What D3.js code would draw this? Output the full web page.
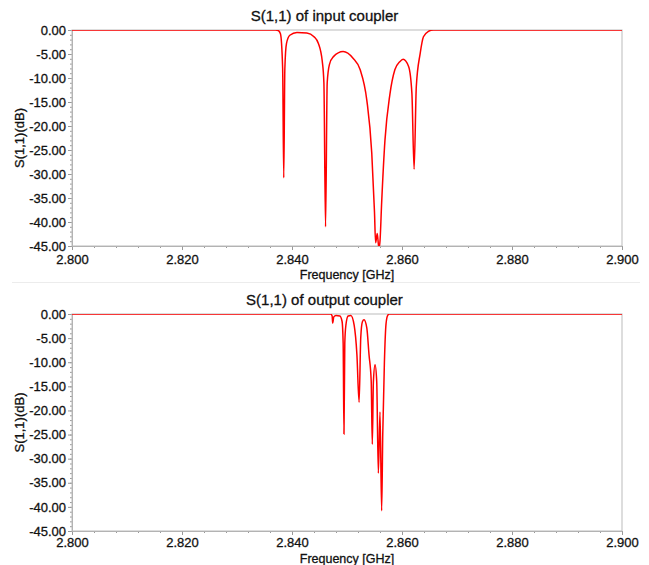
<!DOCTYPE html>
<html>
<head>
<meta charset="utf-8">
<script src="https://cdn.jsdelivr.net/npm/d3@7"></script>
<style>
  body { margin: 0; background: #fff; }
  text { font-family: "Liberation Sans", Arial, sans-serif; fill: #111; stroke: #111; stroke-width: 0.3px; }
</style>
</head>
<body>
<div id="chart"></div>
<script>
// input coupler S11, frequency in GHz, magnitude in dB
const inFreq = [2.8000, 2.8370, 2.8375, 2.8379, 2.8383, 2.8385, 2.8387, 2.8390, 2.8396, 2.8409,
  2.8427, 2.8440, 2.8448, 2.8455, 2.8458, 2.8461, 2.8464, 2.8468, 2.8475, 2.8493, 2.8511, 2.8524,
  2.8536, 2.8545, 2.8550, 2.8552, 2.8555, 2.8558, 2.8560, 2.8563, 2.8569, 2.8578,
  2.8587, 2.8596, 2.8602, 2.8612, 2.8618, 2.8622, 2.8626, 2.8633, 2.8639, 2.8648,
  2.8657, 2.9000];
const inDb = [0, 0, -0.1, -0.8, -8, -30.8, -8, -2.8, -1.1, -0.5,
  -0.6, -1.4, -2.8, -6.5, -11, -41, -11, -7.2, -5.6, -4.5, -5.9, -8.3,
  -14.6, -25.6, -38, -44.3, -42.4, -45.5, -44, -36, -23, -13.4,
  -8.3, -6.6, -6.1, -7.6, -13.2, -29, -11.8, -4.9, -1.4, -0.3,
  0, 0];

// output coupler S11
const outFreq = [2.8000, 2.8470, 2.8473, 2.8474, 2.8476, 2.8480, 2.8487, 2.8491, 2.8493, 2.84945,
  2.8496, 2.8498, 2.8502, 2.8507, 2.8513, 2.8518, 2.8522, 2.8525, 2.8528, 2.8531,
  2.8536, 2.8540, 2.8544, 2.8546, 2.8548, 2.8551, 2.8554, 2.8557, 2.8560, 2.8563,
  2.8565, 2.8568, 2.8571, 2.8574, 2.8577, 2.9000];
const outDb = [0, 0, -0.4, -1.9, -0.6, -0.3, -0.4, -1.5, -6, -24.9,
  -6, -2.3, -0.4, -0.3, -2.3, -8.4, -18.3, -4.9, -1.6, -1.2,
  -2.9, -8.4, -13.9, -27, -14, -10.5, -13.9, -33, -20.3, -40.8,
  -25, -10, -2, -0.3, 0, 0];

const xTicks = [2.80, 2.82, 2.84, 2.86, 2.88, 2.90];
const xTickLabels = ["2.800", "2.820", "2.840", "2.860", "2.880", "2.900"];
const yTicks = [0, -5, -10, -15, -20, -25, -30, -35, -40, -45];
const yTickLabels = ["0.00", "-5.00", "-10.00", "-15.00", "-20.00", "-25.00", "-30.00", "-35.00", "-40.00", "-45.00"];

const W = 649, H = 565;
const left = 72, right = 622;

const svg = d3.select("#chart").append("svg")
  .attr("width", W)
  .attr("height", H);

// faint divider between the two plots
svg.append("line")
  .attr("x1", 12).attr("x2", 640)
  .attr("y1", 282.5).attr("y2", 282.5)
  .attr("stroke", "#ececec");

function drawPanel(id, top, bottom, title, freq, db, xTitleY, pad) {
  const w = right - left, h = bottom - top;
  const data = freq.map((f, i) => ({ f: f, v: db[i] }));

  const x = d3.scaleLinear().domain([2.8, 2.9]).range([0, w]);
  const y = d3.scaleLinear().domain([-45, 0]).range([h, 0]);

  const g = svg.append("g").attr("transform", `translate(${left},${top})`);

  svg.append("text")
    .attr("x", W / 2)
    .attr("y", top - 9)
    .attr("text-anchor", "middle")
    .style("font-size", "15px")
    .text(title);

  // minor ticks
  const xMinor = d3.range(0, 26).map(i => 2.8 + i * 0.004);
  const yMinor = d3.range(-45, 1, 1);
  g.append("g")
    .attr("transform", `translate(0,${h})`)
    .call(d3.axisBottom(x).tickValues(xMinor).tickSize(2).tickFormat(""))
    .call(a => a.select(".domain").remove())
    .selectAll("line").attr("stroke", "#999");
  g.append("g")
    .call(d3.axisLeft(y).tickValues(yMinor).tickSize(2).tickFormat(""))
    .call(a => a.select(".domain").remove())
    .selectAll("line").attr("stroke", "#999");

  const xAxis = g.append("g")
    .attr("transform", `translate(0,${h})`)
    .call(d3.axisBottom(x).tickValues(xTicks).tickFormat((d, i) => xTickLabels[i])
      .tickSize(4).tickSizeOuter(0).tickPadding(pad));
  const yAxis = g.append("g")
    .call(d3.axisLeft(y).tickValues(yTicks).tickFormat((d, i) => yTickLabels[i])
      .tickSize(4).tickSizeOuter(0).tickPadding(2));

  [xAxis, yAxis].forEach(a => {
    a.select(".domain").attr("stroke", "#aaa");
    a.selectAll("line").attr("stroke", "#999");
    a.selectAll("text").style("font-size", "13px").attr("fill", "#111");
  });

  // frame
  g.append("rect")
    .attr("width", w).attr("height", h)
    .attr("fill", "none")
    .attr("stroke", "#bbb");

  g.append("clipPath").attr("id", id)
    .append("rect").attr("width", w).attr("height", h);

  const line = d3.line()
    .x(d => x(d.f))
    .y(d => y(d.v))
    .curve(d3.curveMonotoneX);

  g.append("path")
    .datum(data)
    .attr("clip-path", `url(#${id})`)
    .attr("d", line)
    .attr("fill", "none")
    .attr("stroke", "#ff0000")
    .attr("stroke-width", 1.5);

  svg.append("text")
    .attr("x", left + w / 2)
    .attr("y", xTitleY)
    .attr("text-anchor", "middle")
    .style("font-size", "12.5px")
    .text("Frequency [GHz]");

  svg.append("text")
    .attr("transform", `translate(24,${top + h / 2}) rotate(-90)`)
    .attr("text-anchor", "middle")
    .style("font-size", "13px")
    .text("S(1,1)(dB)");
}

drawPanel("clipIn", 30, 246, "S(1,1) of input coupler", inFreq, inDb, 279, 5);
drawPanel("clipOut", 314, 531, "S(1,1) of output coupler", outFreq, outDb, 563, 3);
</script>
</body>
</html>
